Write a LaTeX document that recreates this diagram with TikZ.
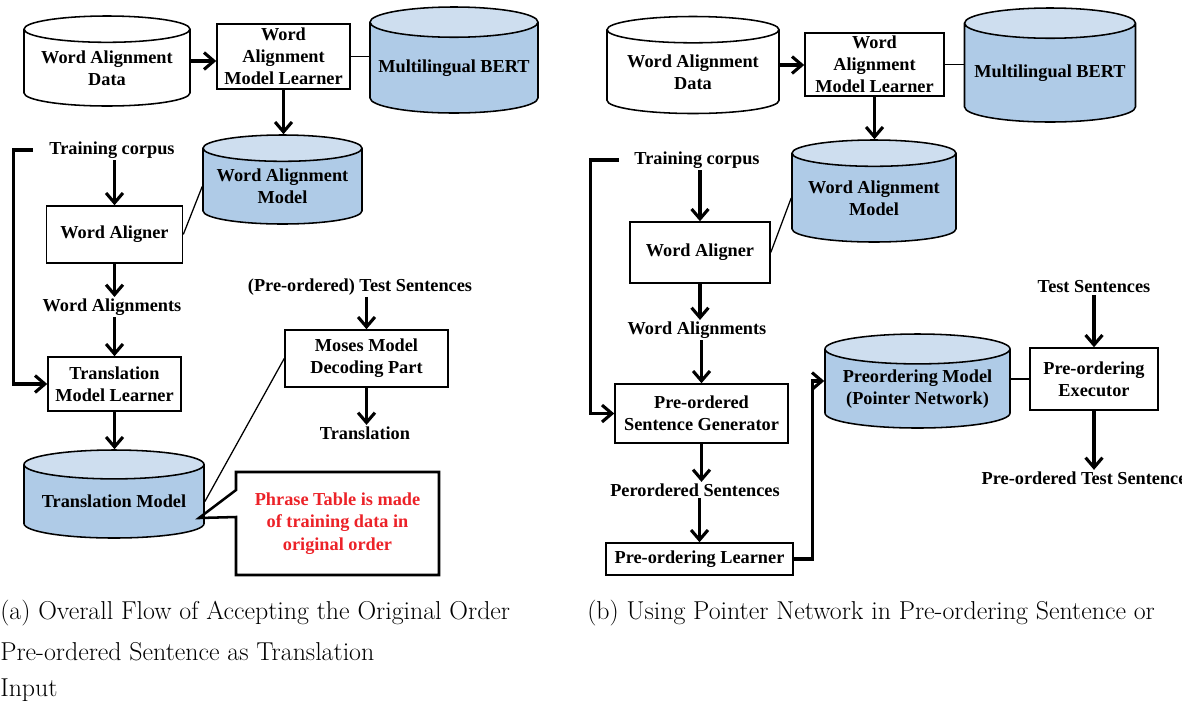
\documentclass[tikz,border=0pt]{standalone}
\usepackage{fontspec}
\newfontfamily\boxfont{Liberation Serif}
\usetikzlibrary{shapes.geometric,arrows.meta}

\definecolor{dbfill}{RGB}{175,203,231}
\definecolor{dbtop}{RGB}{206,222,239}
\definecolor{notered}{RGB}{236,34,40}
\newcommand{\pu}{0.025cm}

\tikzset{
  box/.style={draw, line width=1.1pt, inner sep=0pt, align=center},
  db/.style={cylinder, shape border rotate=90, aspect=0.2, draw, line width=1.1pt,
    inner sep=0pt, align=center, anchor=shape center,
    cylinder uses custom fill, cylinder body fill=white, cylinder end fill=white},
  bluedb/.style={db, cylinder body fill=dbfill, cylinder end fill=dbtop},
  lbl/.style={inner sep=1pt},
  flow/.style={line width=2.2pt, -{Straight Barb[length=7pt, width=12pt]}},
  link/.style={line width=0.9pt},
  callout/.style={draw, line width=1.8pt},
  caption/.style={anchor=west, inner sep=0pt, font=\rmfamily\mdseries\fontsize{18.4}{22}\selectfont}
}

\begin{document}
\begin{tikzpicture}[x=\pu, y=-\pu, font=\boxfont\bfseries\fontsize{13}{15.5}\selectfont]
  \useasboundingbox (0,0) rectangle (1182,706);
  \clip (0,0) rectangle (1182,706);

  % (a) left flow
  \node[db, minimum width=166*\pu, minimum height=90*\pu] (wadA) at (107,61) {Word Alignment\\Data};
  \node[box, minimum width=133*\pu, minimum height=65*\pu] (wamlA) at (283.5,56.5) {Word\\Alignment\\Model Learner};
  \node[bluedb, minimum width=168*\pu, minimum height=106*\pu] (bertA) at (454,60) {Multilingual BERT};
  \node[bluedb, minimum width=159*\pu, minimum height=89*\pu] (wamA) at (282.5,179.5) {Word Alignment\\Model};

  \node[lbl] (corpusA) at (112,150) {Training corpus};
  \node[box, minimum width=136*\pu, minimum height=57*\pu] (alignerA) at (114.5,234.5) {Word Aligner};
  \node[lbl] (walA) at (112,307) {Word Alignments};
  \node[box, minimum width=133*\pu, minimum height=54*\pu] (tmlA) at (114.5,384) {Translation\\Model Learner};
  \node[bluedb, minimum width=180*\pu, minimum height=88*\pu] (tmA) at (114,494) {Translation Model};

  \node[lbl] (testA) at (360,287) {(Pre-ordered) Test Sentences};
  \node[box, minimum width=163*\pu, minimum height=57*\pu] (mosesA) at (366.5,358.5) {Moses Model\\Decoding Part};
  \node[lbl] (transA) at (365,433) {Translation};

  % callout
  \node[align=center, text=notered, minimum width=203*\pu, minimum height=103*\pu, inner sep=0pt,
    font=\boxfont\bfseries\fontsize{13}{16}\selectfont] (noteA) at (337.5,523.5)
    {Phrase Table is made\\of training data in\\original order};
  \coordinate (tipA) at (199,518);
  \draw[callout] (236,472) -- (439,472) -- (439,575) -- (236,575) -- (236,517) -- (tipA) -- (236,490) -- cycle;

  \draw[flow] (wadA.shape center -| wadA.east) -- (wadA.shape center -| wamlA.west);
  \draw[link] (wamlA.east) -- (wamlA.east -| bertA.west);
  \draw[flow] (wamlA.south) -- (wamlA.south |- wamA.north);
  \draw[flow] ([xshift=-15*\pu]corpusA.west) -| ([xshift=-34*\pu]tmlA.west) -- (tmlA.west);
  \draw[flow] (alignerA.north |- corpusA.south) -- (alignerA.north);
  \draw[flow] (alignerA.south) -- (alignerA.south |- walA.north);
  \draw[flow] (tmlA.north |- walA.south) -- (tmlA.north);
  \draw[flow] (tmlA.south) -- (tmlA.south |- tmA.north);
  \draw[link] (alignerA.east) -- (wamA.west);
  \draw[flow] (mosesA.north |- testA.south) -- (mosesA.north);
  \draw[flow] (mosesA.south) -- (mosesA.south |- transA.north);
  \draw[link] (mosesA.west) -- (tmA.east);

  % (b) right flow
  \node[db, minimum width=172*\pu, minimum height=97*\pu] (wadB) at (693,65) {Word Alignment\\Data};
  \node[box, minimum width=139*\pu, minimum height=63*\pu] (wamlB) at (874.5,64.5) {Word\\Alignment\\Model Learner};
  \node[bluedb, minimum width=171*\pu, minimum height=114*\pu] (bertB) at (1050,65) {Multilingual BERT};
  \node[bluedb, minimum width=164*\pu, minimum height=102*\pu] (wamB) at (874,191) {Word Alignment\\Model};

  \node[lbl] (corpusB) at (697,160) {Training corpus};
  \node[box, minimum width=140*\pu, minimum height=61*\pu] (alignerB) at (700,252.5) {Word Aligner};
  \node[lbl] (walB) at (697,330) {Word Alignments};
  \node[box, minimum width=173*\pu, minimum height=59*\pu] (psgB) at (701.5,413.5) {Pre-ordered\\Sentence Generator};
  \node[lbl] (perB) at (695,490) {Perordered Sentences};
  \node[box, minimum width=187*\pu, minimum height=32*\pu] (learnerB) at (699.5,559) {Pre-ordering Learner};

  \node[bluedb, minimum width=185*\pu, minimum height=94*\pu] (pmB) at (917.5,381) {Preordering Model\\(Pointer Network)};
  \node[box, minimum width=128*\pu, minimum height=62*\pu] (execB) at (1094,379) {Pre-ordering\\Executor};
  \node[lbl] (testB) at (1094,287) {Test Sentences};
  \node[lbl, anchor=west] (outB) at (980,478) {Pre-ordered Test Sentences};

  \draw[flow] (wadB.shape center -| wadB.east) -- (wadB.shape center -| wamlB.west);
  \draw[link] (wamlB.east) -- (wamlB.east -| bertB.west);
  \draw[flow] (wamlB.south) -- (wamlB.south |- wamB.north);
  \draw[flow] ([xshift=-14*\pu]corpusB.west) -| ([xshift=-24*\pu]psgB.west) -- (psgB.west);
  \draw[flow] (alignerB.north |- corpusB.south) -- (alignerB.north);
  \draw[link] (alignerB.east) -- (wamB.west);
  \draw[flow] (alignerB.south) -- (alignerB.south |- walB.north);
  \draw[flow] (psgB.north |- walB.south) -- (psgB.north);
  \draw[flow] (psgB.south) -- (psgB.south |- perB.north);
  \draw[flow] (learnerB.north |- perB.south) -- (learnerB.north);
  \draw[flow] (learnerB.east) -- ++(19,0) |- (pmB.shape center -| pmB.west);
  \draw[link] (execB.west -| pmB.east) -- (execB.west);
  \draw[flow] (execB.north |- testB.south) -- (execB.north);
  \draw[flow] (execB.south) -- (execB.south |- outB.north);

  % captions
  \node[caption] (capA1) at (0,613) {(a) Overall Flow of Accepting the Original Order};
  \node[caption] (capA2) at (0,652) {Pre-ordered Sentence as Translation};
  \node[caption] (capA3) at (0,690) {Input};
  \node[caption] (capB) at (587,613) {(b) Using Pointer Network in Pre-ordering Sentence or};
\end{tikzpicture}
\end{document}
